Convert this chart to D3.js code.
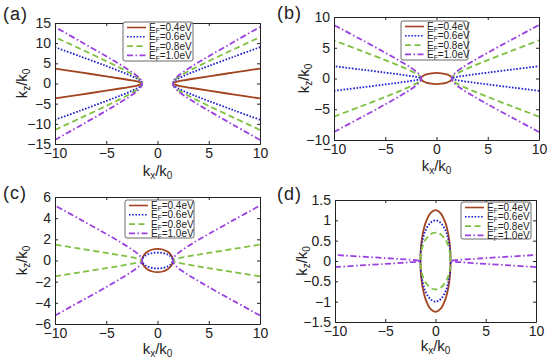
<!DOCTYPE html>
<html>
<head>
<meta charset="utf-8">
<title>isofrequency contours</title>
<script src="https://cdn.jsdelivr.net/npm/d3@7"></script>
<style>
  body{ margin:0; background:#fff; }
  text{ font-family:"Liberation Sans", Arial, sans-serif; fill:#222; }
</style>
</head>
<body>
<div id="chart"></div>
<script>
// ---- data ----
var kxTicks = [-10, -5, 0, 5, 10];
var kzTicksA = [-15, -10, -5, 0, 5, 10, 15];
var kzTicksB = [-10, -5, 0, 5, 10];
var kzTicksC = [-6, -4, -2, 0, 2, 4, 6];
var kzTicksD = [-1.5, -1, -0.5, 0, 0.5, 1, 1.5];
var fermiLevels = ["0.4", "0.6", "0.8", "1.0"];

// kx samples of the open (hyperbolic) branches, |kx| from the vertex out to 10
var kxOpen = [1.5, 1.55, 1.7, 2, 2.5, 3.5, 5, 7.5, 10];
// kx samples of the closed (elliptic) contours, 0 out to the edge
var kxEll = [0, 0.5, 1, 1.25, 1.4, 1.47, 1.5];

// upper half of each contour (kz/k0), lower half is the mirror
var aE04 = [0, 0.15, 0.3, 0.5, 0.75, 1.18, 1.78, 2.75, 3.7];
var aE06 = [0, 0.36, 0.73, 1.2, 1.82, 2.88, 4.34, 6.69, 9.0];
var aE08 = [0, 0.45, 0.93, 1.54, 2.33, 3.68, 5.55, 8.55, 11.5];
var aE10 = [0, 0.55, 1.13, 1.87, 2.83, 4.48, 6.75, 10.4, 14.0];

var bE04 = [0.9, 0.85, 0.67, 0.5, 0.32, 0.18, 0];
var bE06 = [0, 0.08, 0.16, 0.27, 0.4, 0.64, 0.96, 1.49, 2.0];
var bE08 = [0, 0.24, 0.5, 0.83, 1.25, 1.98, 2.99, 4.61, 6.2];
var bE10 = [0, 0.34, 0.7, 1.16, 1.76, 2.78, 4.2, 6.47, 8.7];

var cE04 = [1.1, 1.04, 0.82, 0.61, 0.39, 0.22, 0];
var cE06 = [0.75, 0.71, 0.56, 0.41, 0.27, 0.15, 0];
var cE08 = [0, 0.06, 0.12, 0.2, 0.3, 0.48, 0.72, 1.11, 1.5];
var cE10 = [0, 0.21, 0.42, 0.7, 1.05, 1.66, 2.51, 3.86, 5.2];

var dE04 = [1.25, 1.18, 0.93, 0.69, 0.45, 0.25, 0];
var dE06 = [1.0, 0.94, 0.75, 0.55, 0.36, 0.2, 0];
var dE08 = [0.7, 0.66, 0.52, 0.39, 0.25, 0.14, 0];
var dE10 = [0, 0.006, 0.012, 0.02, 0.03, 0.048, 0.072, 0.11, 0.15];

// ---- styles ----
var styles = [
  {color:"#a2441f", dash:null},
  {color:"#2020d0", dash:"1.6,1.6"},
  {color:"#80c040", dash:"6,3.5"},
  {color:"#9a40e0", dash:"6,2.5,1.5,2.5"}
];

var panels = [
  {tag:"(a)", box:{x0:55, x1:260, y0:23, y1:144}, yt:kzTicksA, leg:{x:123, y:22, w:70, h:39},
   tagPos:[3,20], ylab:27, xlab:176,
   series:[["open", aE04], ["open", aE06], ["open", aE08], ["open", aE10]]},
  {tag:"(b)", box:{x0:334, x1:539, y0:17, y1:140}, yt:kzTicksB, leg:{x:401, y:21, w:67, h:39},
   tagPos:[277,19], ylab:309, xlab:171,
   series:[["ell", bE04], ["open", bE06], ["open", bE08], ["open", bE10]]},
  {tag:"(c)", box:{x0:55, x1:260, y0:197, y1:324}, yt:kzTicksC, leg:{x:125, y:200, w:69, h:38},
   tagPos:[3,199], ylab:27, xlab:354,
   series:[["ell", cE04], ["ell", cE06], ["open", cE08], ["open", cE10]]},
  {tag:"(d)", box:{x0:335, x1:536, y0:200, y1:322}, yt:kzTicksD, leg:{x:461, y:202, w:70, h:37},
   tagPos:[277,200], ylab:307, xlab:351,
   series:[["ell", dE04], ["ell", dE06], ["ell", dE08], ["open", dE10]]}
];

var svg = d3.select("#chart").append("svg")
    .attr("width", 550)
    .attr("height", 363);

var fmt = function(d){ return String(d).replace("-", "\u2212"); };

panels.forEach(function(p, pi){
  var b = p.box;
  var x = d3.scaleLinear().domain([-10, 10]).range([b.x0, b.x1]);
  var ymax = d3.max(p.yt);
  var y = d3.scaleLinear().domain([-ymax, ymax]).range([b.y1, b.y0]);

  var line = d3.line()
      .x(function(d){ return x(d[0]); })
      .y(function(d){ return y(d[1]); });

  var clipId = "clip" + pi;
  svg.append("clipPath").attr("id", clipId).append("rect")
     .attr("x", b.x0).attr("y", b.y0).attr("width", b.x1 - b.x0).attr("height", b.y1 - b.y0);

  var g = svg.append("g").attr("clip-path", "url(#" + clipId + ")");

  p.series.forEach(function(s, si){
    var st = styles[si];
    var kind = s[0], v = s[1];
    var paths = [];
    if(kind == "open"){
      [-1, 1].forEach(function(sx){
        var pts = [];
        for(var i = kxOpen.length - 1; i > 0; i--) pts.push([sx*kxOpen[i], -v[i]]);
        for(var i = 0; i < kxOpen.length; i++) pts.push([sx*kxOpen[i], v[i]]);
        paths.push({pts:pts, curve:d3.curveCatmullRom.alpha(0.5)});
      });
    }else{
      var pts = [];
      for(var i = kxEll.length - 1; i >= 0; i--) pts.push([kxEll[i], v[i]]);
      for(var i = 1; i < kxEll.length; i++) pts.push([-kxEll[i], v[i]]);
      for(var i = kxEll.length - 2; i >= 0; i--) pts.push([-kxEll[i], -v[i]]);
      for(var i = 1; i < kxEll.length - 1; i++) pts.push([kxEll[i], -v[i]]);
      paths.push({pts:pts, curve:d3.curveCatmullRomClosed.alpha(0.5)});
    }
    paths.forEach(function(pp){
      g.append("path")
        .attr("d", line.curve(pp.curve)(pp.pts))
        .attr("fill", "none")
        .attr("stroke", st.color)
        .attr("stroke-width", 1.8)
        .attr("stroke-dasharray", st.dash);
    });
  });

  // axes, MATLAB style box with inward ticks
  var ax = svg.append("g").attr("class", "ax");
  ax.append("g").attr("transform", "translate(0," + b.y1 + ")")
    .call(d3.axisBottom(x).tickValues(kxTicks).tickFormat(fmt).tickSizeInner(-3).tickSizeOuter(0).tickPadding(4));
  ax.append("g").attr("transform", "translate(0," + b.y0 + ")")
    .call(d3.axisTop(x).tickValues(kxTicks).tickFormat("").tickSizeInner(-3).tickSizeOuter(0));
  ax.append("g").attr("transform", "translate(" + b.x0 + ",0)")
    .call(d3.axisLeft(y).tickValues(p.yt).tickFormat(fmt).tickSizeInner(-3).tickSizeOuter(0).tickPadding(4));
  ax.append("g").attr("transform", "translate(" + b.x1 + ",0)")
    .call(d3.axisRight(y).tickValues(p.yt).tickFormat("").tickSizeInner(-3).tickSizeOuter(0));

  ax.selectAll(".domain").attr("stroke", "#222").attr("stroke-width", 1);
  ax.selectAll(".tick line").attr("stroke", "#222");
  ax.selectAll(".tick text").attr("fill", "#222").style("font-size", "14px")
    .style("font-family", "'Liberation Sans', Arial, sans-serif");

  // axis labels
  var xl = svg.append("text")
      .attr("x", (b.x0 + b.x1) / 2)
      .attr("y", p.xlab)
      .attr("text-anchor", "middle")
      .style("font-size", "15px");
  xl.append("tspan").text("k");
  xl.append("tspan").attr("dy", 3).style("font-size", "10px").text("x");
  xl.append("tspan").attr("dy", -3).text("/k");
  xl.append("tspan").attr("dy", 3).style("font-size", "10px").text("0");

  var yl = svg.append("text")
      .attr("transform", "translate(" + p.ylab + "," + (b.y0 + b.y1) / 2 + ") rotate(-90)")
      .attr("text-anchor", "middle")
      .style("font-size", "15px");
  yl.append("tspan").text("k");
  yl.append("tspan").attr("dy", 3).style("font-size", "10px").text("z");
  yl.append("tspan").attr("dy", -3).text("/k");
  yl.append("tspan").attr("dy", 3).style("font-size", "10px").text("0");

  svg.append("text")
    .attr("x", p.tagPos[0]).attr("y", p.tagPos[1])
    .style("font-size", "18px")
    .style("letter-spacing", "1px")
    .text(p.tag);

  // legend
  var L = p.leg;
  var lg = svg.append("g").attr("transform", "translate(" + L.x + "," + L.y + ")");
  lg.append("rect").attr("width", L.w).attr("height", L.h).attr("rx", 2)
    .attr("fill", "#fff").attr("stroke", "#444").attr("stroke-width", 0.8);
  fermiLevels.forEach(function(ef, i){
    var cy = 5.5 + i * 9.3;
    lg.append("line").attr("x1", 4).attr("x2", 23).attr("y1", cy).attr("y2", cy)
      .attr("stroke", styles[i].color).attr("stroke-width", 1.6)
      .attr("stroke-dasharray", styles[i].dash);
    var t = lg.append("text").attr("x", 26).attr("y", cy + 3.6).style("font-size", "10px");
    t.append("tspan").text("E");
    t.append("tspan").attr("dy", 2).style("font-size", "6.5px").text("F");
    t.append("tspan").attr("dy", -2).text("=" + ef + "eV");
  });
});
</script>
</body>
</html>
